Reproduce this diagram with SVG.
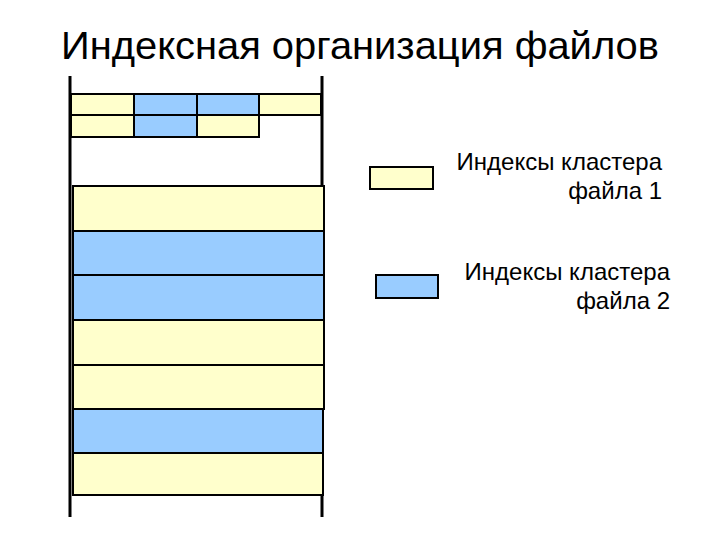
<svg xmlns="http://www.w3.org/2000/svg" width="720" height="540" viewBox="0 0 720 540">
<style>
.y{fill:#FFFFCC;stroke:#000;stroke-width:2}
.b{fill:#99CCFF;stroke:#000;stroke-width:2}
.t{font-family:"Liberation Sans",Arial,sans-serif;fill:#000}
.w{stroke:#000;stroke-width:3}
</style>
<rect width="720" height="540" fill="#fff"/>
<text class="t" x="61" y="59" font-size="39.5" textLength="598" lengthAdjust="spacingAndGlyphs">Индексная организация файлов</text>
<g id="walls"><line class="w" x1="70" y1="76" x2="70" y2="517"/><line class="w" x1="322" y1="76" x2="322" y2="517"/></g>
<g id="index-table">
<rect class="y" x="71" y="94" width="63" height="21"/><rect class="b" x="134" y="94" width="63" height="21"/><rect class="b" x="197" y="94" width="62" height="21"/><rect class="y" x="259" y="94" width="62" height="21"/>
<rect class="y" x="71" y="115" width="63" height="22"/><rect class="b" x="134" y="115" width="63" height="22"/><rect class="y" x="197" y="115" width="62" height="22"/>
</g>
<g id="clusters">
<rect class="y" x="73" y="186" width="251" height="45"/>
<rect class="b" x="73" y="231" width="251" height="44"/>
<rect class="b" x="73" y="275" width="251" height="45"/>
<rect class="y" x="73" y="320" width="251" height="45"/>
<rect class="y" x="73" y="365" width="251" height="44"/>
<rect class="b" x="73" y="409" width="250" height="44"/>
<rect class="y" x="73" y="453" width="250" height="42"/>
</g>
<g id="legend1"><rect class="y" x="370" y="167" width="63" height="22"/>
<text class="t" font-size="24" text-anchor="end"><tspan x="662" y="170">Индексы кластера</tspan><tspan x="662" y="199">файла 1</tspan></text></g>
<g id="legend2"><rect class="b" x="376" y="275" width="62" height="23"/>
<text class="t" font-size="24" text-anchor="end"><tspan x="670" y="280">Индексы кластера</tspan><tspan x="670" y="309">файла 2</tspan></text></g>
<g id="connectors"/>
</svg>
